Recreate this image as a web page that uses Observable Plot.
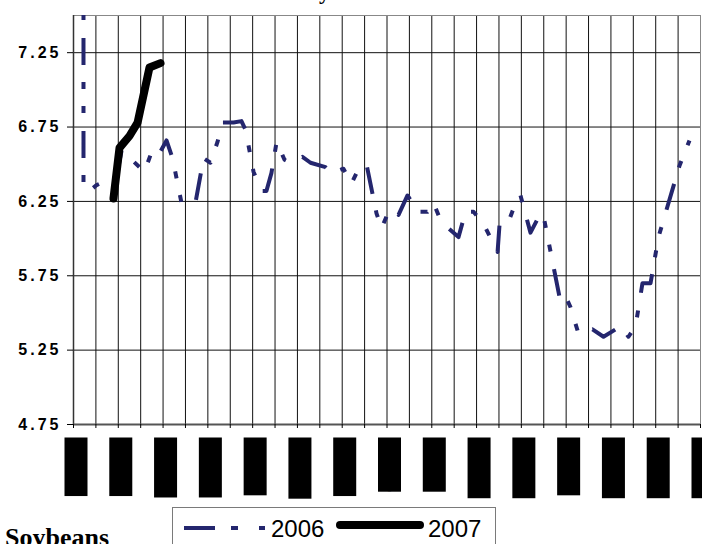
<!DOCTYPE html>
<html><head><meta charset="utf-8">
<script src="https://cdn.jsdelivr.net/npm/d3@7"></script>
<script src="https://cdn.jsdelivr.net/npm/@observablehq/plot@0.6"></script>
<style>
html,body{margin:0;padding:0;background:#fff}
body{width:702px;height:544px;overflow:hidden;position:relative;font-family:"Liberation Sans",Arial,sans-serif}
#chart{position:absolute;left:0;top:0}
#title{position:absolute;right:372px;top:-19px;font:bold 22px/22px "Liberation Serif",serif;white-space:nowrap}
#legend{position:absolute;left:172px;top:507px;width:322px;height:60px;border:1px solid #7a7a7a;background:#fff}
#caption{position:absolute;left:5px;top:525px;font:bold 26px/26px "Liberation Serif",serif;white-space:nowrap}
#chart svg g[aria-label="y-axis tick label"] text{letter-spacing:3px}
</style></head><body>
<div id="title">Cash Price History</div>
<div id="chart"></div>
<div id="legend"></div>
<div id="caption">Soybeans</div>
<script>
// 2006 series: day of year (0 = 1-Jan) and price ($/bu)
const days2006 = [5.8, 5.8, 9.3, 13.4, 25.0, 27.9, 31.9, 41.2, 45.3, 48.8, 54.0, 57.5, 62.7, 70.8, 75.5, 79.5,
  83.6, 86.5, 92.9, 97.5, 99.9, 104.5, 109.1, 112.0, 114.9, 117.9, 122.5, 126.0, 132.9, 137.6, 146.3, 149.8,
  156.7, 161.4, 165.5, 170.1, 175.9, 178.8, 182.9, 184.0, 188.7, 193.9, 200.3, 205.5, 209.0, 213.6, 223.5,
  227.6, 232.2, 238.0, 246.2, 247.3, 249.1, 251.4, 253.1, 256.0, 259.5, 265.3, 271.1, 273.4, 282.1, 284.5,
  288.5, 293.2, 301.3, 307.7, 317.6, 322.2, 326.3, 330.3, 335.0, 339.6, 351.8, 357.6];
const price2006 = [8.60, 6.35, 6.32, 6.36, 6.42, 6.59, 6.55, 6.45, 6.58, 6.55, 6.66, 6.54, 6.24, 6.24, 6.54, 6.51,
  6.65, 6.78, 6.78, 6.79, 6.73, 6.45, 6.32, 6.32, 6.44, 6.65, 6.53, 6.51, 6.55, 6.51, 6.48, 6.44,
  6.47, 6.37, 6.47, 6.50, 6.17, 6.07, 6.18, 6.20, 6.16, 6.29, 6.18, 6.18, 6.24, 6.11, 6.01,
  6.18, 6.18, 6.10, 5.91, 6.09, 6.13, 6.12, 6.13, 6.22, 6.29, 6.04, 6.17, 6.12, 5.61, 5.64,
  5.54, 5.36, 5.39, 5.34, 5.41, 5.34, 5.41, 5.70, 5.70, 6.01, 6.49, 6.66];
// 2007 series
const days2007 = [23.2, 26.7, 32.5, 37.2, 44.1, 50.5];
const price2007 = [6.27, 6.61, 6.69, 6.78, 7.15, 7.18];
// axes
const yTicks = [4.75, 5.25, 5.75, 6.25, 6.75, 7.25];
const yGrid = [5.25, 5.75, 6.25, 6.75, 7.25];
const gridDays = [0, 13, 26, 39, 52, 65, 78, 91, 104, 117, 130, 143, 156, 169, 182, 195, 208, 221, 234, 247, 260, 273, 286, 299, 312, 325, 338, 351, 364];
const labelDays = [0, 26, 52, 78, 104, 130, 156, 182, 208, 234, 260, 286, 312, 338, 364];
const xLabels = ["01-Jan-06", "27-Jan-06", "22-Feb-06", "20-Mar-06", "15-Apr-06", "11-May-06", "06-Jun-06", "02-Jul-06",
  "28-Jul-06", "23-Aug-06", "18-Sep-06", "14-Oct-06", "09-Nov-06", "05-Dec-06", "31-Dec-06"];
const seriesNames = ["2006", "2007"];

const s2006 = days2006.map((d, i) => ({day: d, price: price2006[i]}));
const s2007 = days2007.map((d, i) => ({day: d, price: price2007[i]}));
const labels = labelDays.map((d, i) => ({day: d, label: xLabels[i]}));

const NAVY = "#24266e";
const DASH = "27,17,7,17,7,18";

const chart = Plot.plot({
  width: 702, height: 544,
  marginLeft: 73, marginRight: 2, marginTop: 15, marginBottom: 120,
  style: {fontFamily: "'Liberation Sans', Arial, sans-serif", background: "transparent"},
  x: {domain: [0, 364], label: null},
  y: {domain: [4.75, 7.5], label: null},
  marks: [
    Plot.gridX(gridDays, {stroke: "#111", strokeOpacity: 1, strokeWidth: 1}),
    Plot.gridY(yGrid, {stroke: "#111", strokeOpacity: 1, strokeWidth: 1}),
    Plot.frame({stroke: "#888"}),
    Plot.ruleX([0], {stroke: "#333", strokeWidth: 1.5}),
    Plot.ruleY([4.75], {stroke: "#555", strokeWidth: 2}),
    Plot.axisY(yTicks, {tickSize: 6, tickPadding: 6, fontSize: 16, fontWeight: "bold", label: null,
      tickFormat: d => d.toFixed(2), color: "#000"}),
    Plot.axisX(gridDays, {tickSize: 4, tickFormat: () => "", label: null}),
    Plot.text(labels, {x: "day", frameAnchor: "bottom", text: "label", rotate: -90, textAnchor: "end",
      dx: 7, dy: 13, fontSize: 13, fill: "#000"}),
    Plot.line(s2006, {x: "day", y: "price", stroke: NAVY, strokeWidth: 4, strokeDasharray: DASH,
      strokeLinecap: "butt", strokeLinejoin: "round", clip: true}),
    Plot.line(s2007, {x: "day", y: "price", stroke: "#000", strokeWidth: 8,
      strokeLinecap: "round", strokeLinejoin: "round"})
  ]
});
document.getElementById("chart").appendChild(chart);

// x tick labels are shown as solid dark blocks (as in the reference); block = label's own bounding box
const lblGroup = chart.querySelector('g[aria-label="text"]');
if (lblGroup) {
  for (const t of lblGroup.querySelectorAll("text")) {
    const b = t.getBBox();
    const padY = 4;
    const r = document.createElementNS("http://www.w3.org/2000/svg", "rect");
    r.setAttribute("x", b.x);
    r.setAttribute("y", b.y - padY);
    r.setAttribute("width", b.width);
    r.setAttribute("height", b.height + 2 * padY);
    if (t.getAttribute("transform")) r.setAttribute("transform", t.getAttribute("transform"));
    r.setAttribute("fill", "#000");
    t.parentNode.insertBefore(r, t);
  }
}

// legend
const lg = d3.select("#legend").append("svg").attr("width", 322).attr("height", 40);
lg.append("line").attr("x1", 11).attr("x2", 92).attr("y1", 20).attr("y2", 20)
  .attr("stroke", NAVY).attr("stroke-width", 4).attr("stroke-dasharray", "31,16,7,21,6");
lg.append("text").attr("x", 98).attr("y", 29).attr("font-size", 24)
  .attr("font-family", "'Liberation Sans', Arial, sans-serif").text(seriesNames[0]);
lg.append("line").attr("x1", 167).attr("x2", 247).attr("y1", 17).attr("y2", 17)
  .attr("stroke", "#000").attr("stroke-width", 8).attr("stroke-linecap", "round");
lg.append("text").attr("x", 255).attr("y", 29).attr("font-size", 24)
  .attr("font-family", "'Liberation Sans', Arial, sans-serif").text(seriesNames[1]);
</script>
</body></html>
